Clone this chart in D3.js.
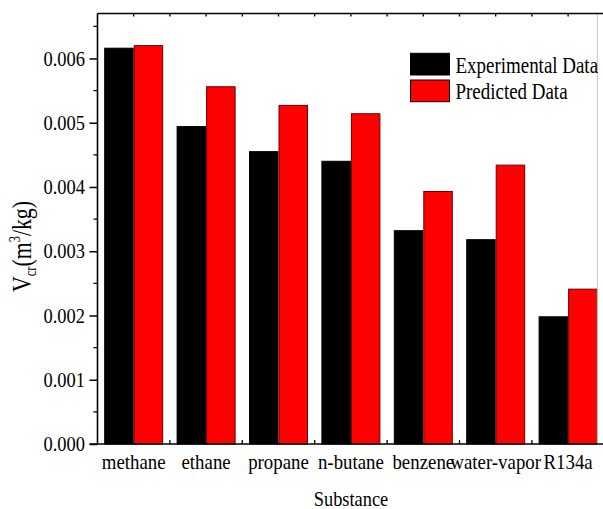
<!DOCTYPE html>
<html>
<head>
<meta charset="utf-8">
<script src="https://cdn.jsdelivr.net/npm/d3@7"></script>
<style>
  body { margin: 0; background: #fff; }
  svg { display: block; }
  text { font-family: "Liberation Serif", "Times New Roman", serif; fill: #000; }
</style>
</head>
<body>
<svg id="chart" width="603" height="509"></svg>
<script>
// data
const substances = ["methane", "ethane", "propane", "n-butane", "benzene", "water-vapor", "R134a"];
const seriesNames = ["Experimental Data", "Predicted Data"];
const experimental = [0.00616, 0.00494, 0.00455, 0.00440, 0.00332, 0.00318, 0.00198];
const predicted = [0.00620, 0.00556, 0.00527, 0.00514, 0.00393, 0.00434, 0.00241];
const yTicks = [0, 0.001, 0.002, 0.003, 0.004, 0.005, 0.006];

const colors = ["#000000", "#ff0000"];
const strokes = ["#000000", "#6a0000"];

const plotLeft = 97.5, plotRight = 604.3, plotTop = 13.5, plotBottom = 444;
const svg = d3.select("#chart");

const x = d3.scaleBand()
    .domain(substances)
    .range([plotLeft, plotRight])
    .paddingInner(0.185)
    .paddingOuter(0.0925);

const xs = d3.scaleBand()
    .domain(seriesNames)
    .range([0, x.bandwidth()]);

const y = d3.scaleLinear()
    .domain([0, 0.0067])
    .range([plotBottom, plotTop]);

const step = x.step();
const centers = substances.map(d => x(d) + x.bandwidth() / 2);
const bounds = substances.slice(1).map(d => x(d) + x.bandwidth() / 2 - step / 2);

// ticks drawn first so bars cover them
const ticks = svg.append("g").attr("stroke", "#000").attr("stroke-width", 1.3);
bounds.forEach(bx => {
    ticks.append("line").attr("x1", bx).attr("x2", bx).attr("y1", plotBottom).attr("y2", plotBottom - 4);
});
centers.concat(bounds).forEach(bx => {
    ticks.append("line").attr("x1", bx).attr("x2", bx).attr("y1", plotTop).attr("y2", plotTop + 3);
});

// y axis, major and minor ticks
const yaxis = d3.axisLeft(y)
    .tickValues(yTicks)
    .tickSize(8)
    .tickFormat("");
const yaxisG = svg.append("g")
    .attr("transform", `translate(${plotLeft},0)`)
    .call(yaxis);
yaxisG.select(".domain").remove();
yaxisG.selectAll("line").attr("stroke-width", 1.5);

const minor = d3.range(0.0005, 0.0067, 0.001);
svg.append("g").selectAll("line")
    .data(minor)
    .join("line")
    .attr("x1", plotLeft - 4)
    .attr("x2", plotLeft)
    .attr("y1", d => y(d))
    .attr("y2", d => y(d))
    .attr("stroke", "#000")
    .attr("stroke-width", 1.3);

// tick labels, font is condensed in the reference
svg.append("g").selectAll("g")
    .data(yTicks)
    .join("g")
    .attr("transform", d => `translate(85,${y(d)}) scale(0.9,1)`)
    .append("text")
    .attr("text-anchor", "end")
    .attr("dy", "0.35em")
    .attr("font-size", 20.5)
    .text(d => d3.format(".3f")(d));

// bars
const values = [experimental, predicted];
const groups = svg.append("g").selectAll("g")
    .data(substances)
    .join("g")
    .attr("transform", d => `translate(${x(d)},0)`);

groups.selectAll("rect")
    .data((d, i) => seriesNames.map((s, k) => ({ s: s, k: k, v: values[k][i] })))
    .join("rect")
    .attr("x", d => xs(d.s) + 0.5)
    .attr("y", d => y(d.v))
    .attr("width", xs.bandwidth() - 1)
    .attr("height", d => plotBottom - y(d.v))
    .attr("fill", d => colors[d.k])
    .attr("stroke", d => strokes[d.k])
    .attr("stroke-width", 1);

// frame lines
svg.append("line")
    .attr("x1", plotRight - 7).attr("x2", plotRight - 7)
    .attr("y1", plotTop).attr("y2", plotBottom)
    .attr("stroke", "#c8c8c8").attr("stroke-width", 1);
svg.append("line")
    .attr("x1", plotLeft - 8).attr("x2", plotRight)
    .attr("y1", plotBottom).attr("y2", plotBottom)
    .attr("stroke", "#000").attr("stroke-width", 1.6);
svg.append("line")
    .attr("x1", plotLeft).attr("x2", plotRight)
    .attr("y1", plotTop).attr("y2", plotTop)
    .attr("stroke", "#000").attr("stroke-width", 1.6);
svg.append("line")
    .attr("x1", plotLeft).attr("x2", plotLeft)
    .attr("y1", plotTop).attr("y2", plotBottom)
    .attr("stroke", "#000").attr("stroke-width", 1.6);

// category labels
svg.append("g").selectAll("g")
    .data(substances)
    .join("g")
    .attr("transform", d => `translate(${x(d) + x.bandwidth() / 2},469) scale(0.92,1)`)
    .append("text")
    .attr("text-anchor", "middle")
    .attr("font-size", 20.5)
    .text(d => d);

// axis titles
svg.append("g")
    .attr("transform", "translate(351,506) scale(0.92,1)")
    .append("text")
    .attr("text-anchor", "middle")
    .attr("font-size", 20)
    .text("Substance");

const ytitle = svg.append("g")
    .attr("transform", "translate(31,246.5) rotate(-90) scale(0.78,1)")
    .append("text")
    .attr("text-anchor", "middle")
    .attr("font-size", 28);
ytitle.append("tspan").text("V");
ytitle.append("tspan").attr("font-size", 16).attr("dy", 5).text("cr");
ytitle.append("tspan").attr("dy", -5).text("(m");
ytitle.append("tspan").attr("font-size", 16).attr("dy", -11).text("3");
ytitle.append("tspan").attr("dy", 11).text("/kg)");

// legend
const legend = svg.append("g").selectAll("g")
    .data(seriesNames)
    .join("g")
    .attr("transform", (d, i) => `translate(410.5,${53.3 + i * 26.7})`);
legend.append("rect")
    .attr("width", 39)
    .attr("height", 21.7)
    .attr("fill", (d, i) => colors[i])
    .attr("stroke", "#000")
    .attr("stroke-width", 1);
legend.append("g")
    .attr("transform", "translate(45,19.4) scale(0.79,1)")
    .append("text")
    .attr("font-size", 24)
    .text(d => d);
</script>
</body>
</html>
